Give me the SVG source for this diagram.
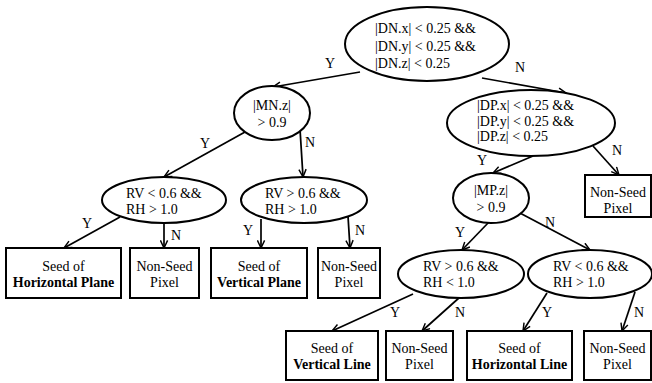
<svg xmlns="http://www.w3.org/2000/svg" width="652" height="383" viewBox="0 0 652 383">
<style>
.n{fill:#fff;stroke:#000;stroke-width:2}
text{font-family:'Liberation Serif','Times New Roman',Times,'DejaVu Serif',serif;font-size:14px;fill:#000}
.b{font-weight:bold}
.m{text-anchor:middle}
.e line{stroke:#000;stroke-width:1.7;fill:none;marker-end:url(#ah)}
</style>
<defs>
<marker id="ah" viewBox="0 0 10 10" refX="9.5" refY="5" markerWidth="9" markerHeight="9" markerUnits="userSpaceOnUse" orient="auto">
<path d="M1,1 L9.5,5 L1,9" fill="none" stroke="#000" stroke-width="1.6"/>
</marker>
</defs>
<rect width="652" height="383" fill="#fff"/>
<g id="connectors" class="e">
<line x1="360" y1="72" x2="273" y2="87"/>
<line x1="482" y1="78" x2="566" y2="93"/>
<line x1="245" y1="132" x2="164" y2="177"/>
<line x1="300" y1="129" x2="303" y2="177"/>
<line x1="120" y1="217" x2="64" y2="248"/>
<line x1="164" y1="223" x2="164" y2="248"/>
<line x1="261" y1="219" x2="261" y2="248"/>
<line x1="348" y1="216" x2="350" y2="248"/>
<line x1="533" y1="156" x2="493" y2="173"/>
<line x1="593" y1="146" x2="619" y2="175"/>
<line x1="489" y1="222" x2="462" y2="250"/>
<line x1="518" y1="212" x2="590" y2="250"/>
<line x1="413" y1="294" x2="332" y2="331"/>
<line x1="460" y1="297" x2="422" y2="331"/>
<line x1="547" y1="293" x2="523" y2="331"/>
<line x1="635" y1="292" x2="622" y2="331"/>
</g>
<g id="edge-labels" font-family="Liberation Serif, serif" text-anchor="middle">
<text x="330" y="68">Y</text>
<text x="520" y="72">N</text>
<text x="205" y="148">Y</text>
<text x="310" y="147">N</text>
<text x="482" y="165">Y</text>
<text x="617" y="155">N</text>
<text x="87" y="228">Y</text>
<text x="176" y="240">N</text>
<text x="248" y="235">Y</text>
<text x="360" y="235">N</text>
<text x="460" y="237">Y</text>
<text x="550" y="227">N</text>
<text x="395" y="317">Y</text>
<text x="460" y="317">N</text>
<text x="547" y="317">Y</text>
<text x="639" y="317">N</text>
</g>
<g id="root">
<ellipse class="n" cx="427" cy="44" rx="82" ry="37"/>
<text x="375" y="33">|DN.x| &lt; 0.25 &amp;&amp;</text>
<text x="375" y="51">|DN.y| &lt; 0.25 &amp;&amp;</text>
<text x="375" y="68">|DN.z| &lt; 0.25</text>
</g>
<g id="mn">
<ellipse class="n" cx="272" cy="113" rx="38" ry="27"/>
<text class="m" x="272" y="110">|MN.z|</text>
<text class="m" x="272" y="127">&gt; 0.9</text>
</g>
<g id="dp">
<ellipse class="n" cx="531" cy="123" rx="84" ry="33"/>
<text x="477" y="110">|DP.x| &lt; 0.25 &amp;&amp;</text>
<text x="477" y="126">|DP.y| &lt; 0.25 &amp;&amp;</text>
<text x="477" y="141">|DP.z| &lt; 0.25</text>
</g>
<g id="rv1">
<ellipse class="n" cx="164" cy="200" rx="62" ry="23"/>
<text x="126" y="198">RV &lt; 0.6 &amp;&amp;</text>
<text x="126" y="214">RH &gt; 1.0</text>
</g>
<g id="rv2">
<ellipse class="n" cx="304" cy="200" rx="63" ry="23"/>
<text x="265" y="198">RV &gt; 0.6 &amp;&amp;</text>
<text x="265" y="214">RH &gt; 1.0</text>
</g>
<g id="mp">
<ellipse class="n" cx="491" cy="198" rx="38" ry="25"/>
<text class="m" x="491" y="195">|MP.z|</text>
<text class="m" x="491" y="212">&gt; 0.9</text>
</g>
<g id="ns-right">
<rect class="n" x="585" y="175" width="66" height="42"/>
<text class="m" x="618" y="197">Non-Seed</text>
<text class="m" x="618" y="213">Pixel</text>
</g>
<g id="rv3">
<ellipse class="n" cx="461" cy="274" rx="63" ry="24"/>
<text x="423" y="271">RV &gt; 0.6 &amp;&amp;</text>
<text x="423" y="287">RH &lt; 1.0</text>
</g>
<g id="rv4">
<ellipse class="n" cx="590" cy="274" rx="62" ry="24"/>
<text x="553" y="271">RV &lt; 0.6 &amp;&amp;</text>
<text x="553" y="287">RH &gt; 1.0</text>
</g>
<g id="seed-hp">
<rect class="n" x="6" y="248" width="115" height="50"/>
<text class="m" x="63.5" y="271">Seed of</text>
<text class="m b" x="63.5" y="287">Horizontal Plane</text>
</g>
<g id="ns1">
<rect class="n" x="130" y="248" width="69" height="50"/>
<text class="m" x="164.5" y="271">Non-Seed</text>
<text class="m" x="164.5" y="287">Pixel</text>
</g>
<g id="seed-vp">
<rect class="n" x="211" y="248" width="96" height="50"/>
<text class="m" x="259" y="271">Seed of</text>
<text class="m b" x="259" y="287">Vertical Plane</text>
</g>
<g id="ns2">
<rect class="n" x="318" y="248" width="62" height="50"/>
<text class="m" x="349" y="271">Non-Seed</text>
<text class="m" x="349" y="287">Pixel</text>
</g>
<g id="seed-vl">
<rect class="n" x="286" y="331" width="92" height="49"/>
<text class="m" x="332" y="353">Seed of</text>
<text class="m b" x="332" y="369">Vertical Line</text>
</g>
<g id="ns3">
<rect class="n" x="386" y="331" width="67" height="49"/>
<text class="m" x="419.5" y="353">Non-Seed</text>
<text class="m" x="419.5" y="369">Pixel</text>
</g>
<g id="seed-hl">
<rect class="n" x="467" y="331" width="105" height="49"/>
<text class="m" x="519.5" y="353">Seed of</text>
<text class="m b" x="519.5" y="369">Horizontal Line</text>
</g>
<g id="ns4">
<rect class="n" x="584" y="331" width="67" height="49"/>
<text class="m" x="617.5" y="353">Non-Seed</text>
<text class="m" x="617.5" y="369">Pixel</text>
</g>
</svg>
